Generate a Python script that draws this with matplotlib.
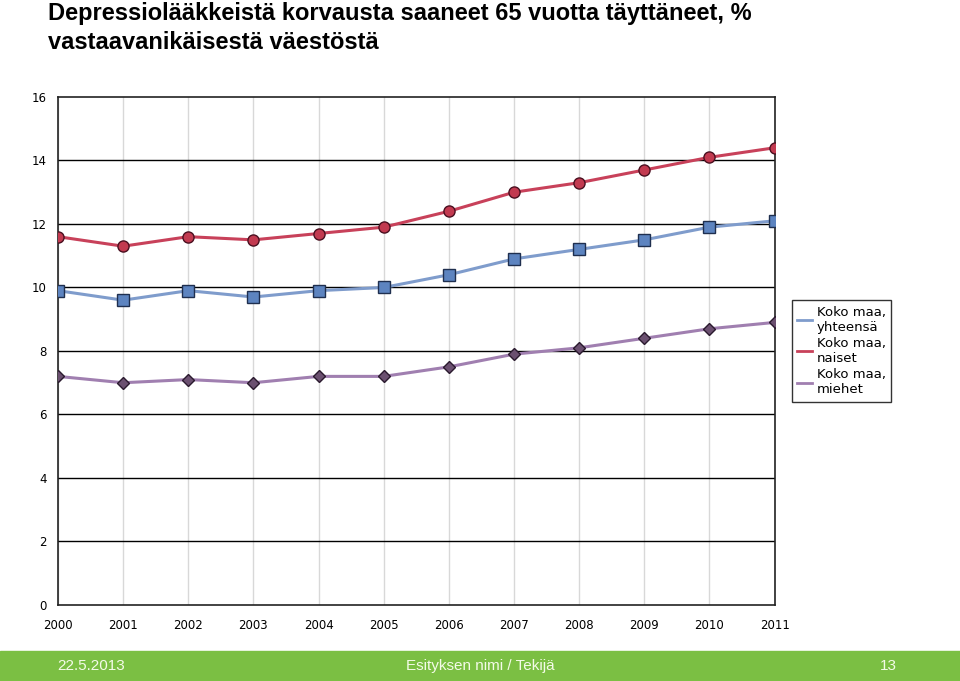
import matplotlib.pyplot as plt
import numpy as np

years = [2000, 2001, 2002, 2003, 2004, 2005, 2006, 2007, 2008, 2009, 2010, 2011]
yhteensa = [9.9, 9.6, 9.9, 9.7, 9.9, 10.0, 10.4, 10.9, 11.2, 11.5, 11.9, 12.1]
naiset = [11.6, 11.3, 11.6, 11.5, 11.7, 11.9, 12.4, 13.0, 13.3, 13.7, 14.1, 14.4]
miehet = [7.2, 7.0, 7.1, 7.0, 7.2, 7.2, 7.5, 7.9, 8.1, 8.4, 8.7, 8.9]
labels = ["Koko maa,\nyhteensä", "Koko maa,\nnaiset", "Koko maa,\nmiehet"]
yticks = [0, 2, 4, 6, 8, 10, 12, 14, 16]

fig = plt.figure(figsize=(9.6, 6.81), dpi=100)
ax = fig.add_axes([0.0604, 0.1116, 0.7465, 0.746])

# pystyviivat vaaleina, vaakaviivat mustina
for y in years:
    ax.axvline(y, color="#d8d8d8", lw=1, zorder=0)
for t in yticks[1:-1]:
    ax.axhline(t, color="black", lw=1, zorder=0)

l1, = ax.plot(years, yhteensa, color="#7f9ccc", lw=2.2, marker="s", ms=8,
              mfc="#5d84c0", mec="#1f2f4f", mew=1, zorder=3)
l2, = ax.plot(years, naiset, color="#c8415a", lw=2.2, marker="o", ms=8,
              mfc="#c23a50", mec="#4a1020", mew=1, zorder=3)
l3, = ax.plot(years, miehet, color="#a07fb0", lw=2.2, marker="D", ms=6,
              mfc="#6b5070", mec="#2a1a2e", mew=1, zorder=3)

ax.set_xlim(2000, 2011)
ax.set_ylim(0, 16)
ax.set_xticks(years)
ax.set_yticks(yticks)
ax.tick_params(length=0, labelsize=8.5)
ax.tick_params(axis="x", pad=10)
ax.tick_params(axis="y", pad=8)
for s in ax.spines.values():
    s.set_color("#222222")
    s.set_linewidth(1.2)

leg = ax.legend([l1, l2, l3], labels, loc="center left",
                bbox_to_anchor=(1.015, 0.5), frameon=True, fancybox=False,
                edgecolor="black", fontsize=9.5, handlelength=1.1,
                labelspacing=0.25, borderpad=0.4, handletextpad=0.4,
                markerscale=0)
for h in leg.legend_handles:
    h.set_marker("")
    h.set_linewidth(2)

fig.text(0.05, 0.997, "Depressiolääkkeistä korvausta saaneet 65 vuotta täyttäneet, %\nvastaavanikäisestä väestöstä",
         ha="left", va="top", fontsize=17, fontweight="bold",
         family="Liberation Sans", linespacing=1.35)

# alapalkki
fig.patches.append(plt.Rectangle((0, 0), 1, 30 / 681, transform=fig.transFigure,
                                 color="#7bbf43", zorder=0))
fig.text(0.06, 15 / 681, "22.5.2013", color="#f4fbe8", fontsize=11,
         family="Liberation Sans", va="center")
fig.text(0.5, 15 / 681, "Esityksen nimi / Tekijä", color="#f4fbe8", fontsize=11,
         family="Liberation Sans", va="center", ha="center")
fig.text(0.925, 15 / 681, "13", color="#f4fbe8", fontsize=11,
         family="Liberation Sans", va="center", ha="center")

fig.savefig("out.png", dpi=100)
